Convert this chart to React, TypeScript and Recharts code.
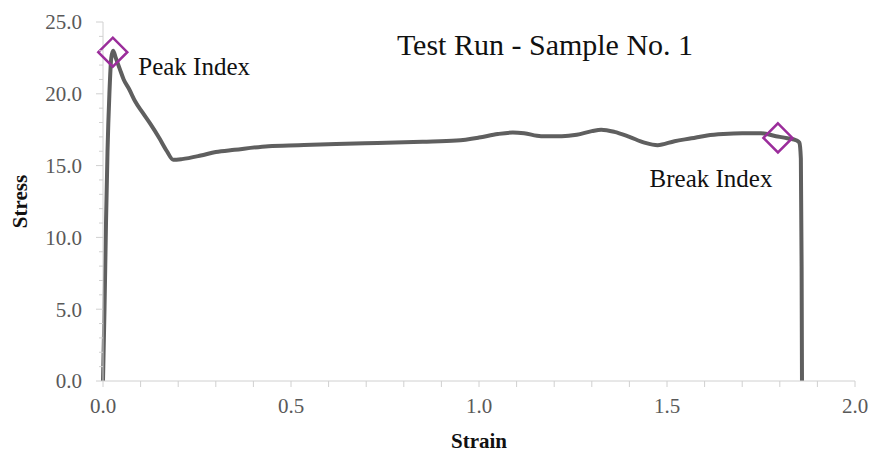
import { ComposedChart, Line, Scatter, XAxis, YAxis, LabelList } from "recharts";

// stress-strain curve
const strainValues = [
  0, 0.004, 0.008, 0.012, 0.017, 0.022, 0.027, 0.034, 0.045, 0.055, 0.07, 0.085, 0.105, 0.126, 0.15, 0.17,
  0.187, 0.21, 0.26, 0.3, 0.35, 0.44, 0.52, 0.62, 0.73, 0.85, 0.94, 1.0, 1.05, 1.09, 1.12, 1.165, 1.22, 1.26,
  1.3, 1.325, 1.36, 1.4, 1.44, 1.475, 1.52, 1.565, 1.607, 1.65, 1.7, 1.75, 1.79, 1.82, 1.845, 1.852, 1.856,
  1.858, 1.859,
];
const stressValues = [
  0, 5, 11, 16, 20, 22.5, 23.0, 22.5, 21.7, 21.0, 20.3, 19.5, 18.7, 17.9, 16.9, 16.0,
  15.4, 15.45, 15.7, 15.95, 16.1, 16.35, 16.42, 16.5, 16.58, 16.66, 16.74, 16.95, 17.2, 17.3, 17.25, 17.05, 17.05, 17.15,
  17.4, 17.5, 17.35, 17.0, 16.6, 16.42, 16.7, 16.9, 17.1, 17.2, 17.25, 17.25, 17.05, 16.9, 16.75, 16.6, 15.5,
  8, 0,
];

const markerNames = ["Peak Index", "Break Index"];
const markerStrain = [0.026, 1.795];
const markerStress = [22.9, 16.93];

const xTicks = [0, 0.1, 0.2, 0.3, 0.4, 0.5, 0.6, 0.7, 0.8, 0.9, 1.0, 1.1, 1.2, 1.3, 1.4, 1.5, 1.6, 1.7, 1.8, 1.9, 2.0];
const yTicks = [0, 1, 2, 3, 4, 5, 6, 7, 8, 9, 10, 11, 12, 13, 14, 15, 16, 17, 18, 19, 20, 21, 22, 23, 24, 25];

const rows = strainValues.map((s, i) => ({ strain: s, stress: stressValues[i] }));
const markers = markerNames.map((name, i) => ({ name, strain: markerStrain[i], stress: markerStress[i] }));

const FONT = "'Liberation Serif', 'Times New Roman', serif";
const AXIS = "#d0d0d0";
const TICK_TEXT = "#595959";

function XTick({ x, y, payload }: any) {
  const v = payload.value;
  const major = Math.round(v * 10) % 5 === 0;
  return (
    <g>
      <line x1={x} x2={x} y1={y} y2={y + 6} stroke={AXIS} />
      {major && (
        <text x={x} y={y + 32} textAnchor="middle" fill={TICK_TEXT} fontSize={21} fontFamily={FONT}>
          {v.toFixed(1)}
        </text>
      )}
    </g>
  );
}

function YTick({ x, y, payload }: any) {
  const v = payload.value;
  const major = v % 5 === 0;
  return (
    <g>
      <line x1={x - (major ? 7 : 4)} x2={x} y1={y} y2={y} stroke={AXIS} />
      {major && (
        <text x={x - 21} y={y} dy="0.35em" textAnchor="end" fill={TICK_TEXT} fontSize={21} fontFamily={FONT}>
          {v.toFixed(1)}
        </text>
      )}
    </g>
  );
}

function Diamond({ cx, cy }: any) {
  const r = 14.5;
  return (
    <polygon
      points={`${cx},${cy - r} ${cx + r},${cy} ${cx},${cy + r} ${cx - r},${cy}`}
      fill="none"
      stroke="#9b2d9b"
      strokeWidth={2.5}
    />
  );
}

function MarkerLabel({ x, y, value }: any) {
  const peak = value === "Peak Index";
  return (
    <text
      x={peak ? x + 30 : x - 1}
      y={peak ? y + 27 : y + 54}
      textAnchor={peak ? "start" : "end"}
      fill="#111"
      fontSize={25}
      fontFamily={FONT}
    >
      {value}
    </text>
  );
}

export default function App() {
  return (
    <div style={{ position: "absolute", left: 0, top: 0, width: 873, height: 457, background: "#fff" }}>
      <ComposedChart width={873} height={457} data={rows} margin={{ top: 22, right: 18, bottom: 0, left: 0 }}>
        <XAxis
          dataKey="strain"
          type="number"
          domain={[0, 2]}
          ticks={xTicks}
          interval={0}
          height={76}
          tickSize={0}
          tickMargin={0}
          tick={<XTick />}
          axisLine={{ stroke: AXIS }}
          label={({ viewBox }: any) => (
            <text
              x={viewBox.x + viewBox.width / 2}
              y={viewBox.y + 67}
              textAnchor="middle"
              fontSize={21}
              fontWeight="bold"
              fill="#111"
              fontFamily={FONT}
            >
              Strain
            </text>
          )}
        />
        <YAxis
          dataKey="stress"
          type="number"
          domain={[0, 25]}
          ticks={yTicks}
          interval={0}
          width={103}
          tickSize={0}
          tickMargin={0}
          tick={<YTick />}
          axisLine={{ stroke: AXIS }}
          label={({ viewBox }: any) => {
            const cy = viewBox.y + viewBox.height / 2;
            return (
              <text
                x={20}
                y={cy}
                transform={`rotate(-90 20 ${cy})`}
                textAnchor="middle"
                dominantBaseline="central"
                fontSize={21}
                fontWeight="bold"
                fill="#111"
                fontFamily={FONT}
              >
                Stress
              </text>
            );
          }}
        />
        <Line
          dataKey="stress"
          type="monotone"
          stroke="#5f5f5f"
          strokeWidth={4}
          dot={false}
          activeDot={false}
          isAnimationActive={false}
        />
        <Scatter data={markers} dataKey="stress" shape={<Diamond />} isAnimationActive={false}>
          <LabelList dataKey="name" content={<MarkerLabel />} />
        </Scatter>
      </ComposedChart>
      <svg width={873} height={457} style={{ position: "absolute", left: 0, top: 0, pointerEvents: "none" }}>
        <text x={545} y={54.5} textAnchor="middle" fontSize={30} fill="#111" fontFamily={FONT}>
          Test Run - Sample No. 1
        </text>
      </svg>
    </div>
  );
}
